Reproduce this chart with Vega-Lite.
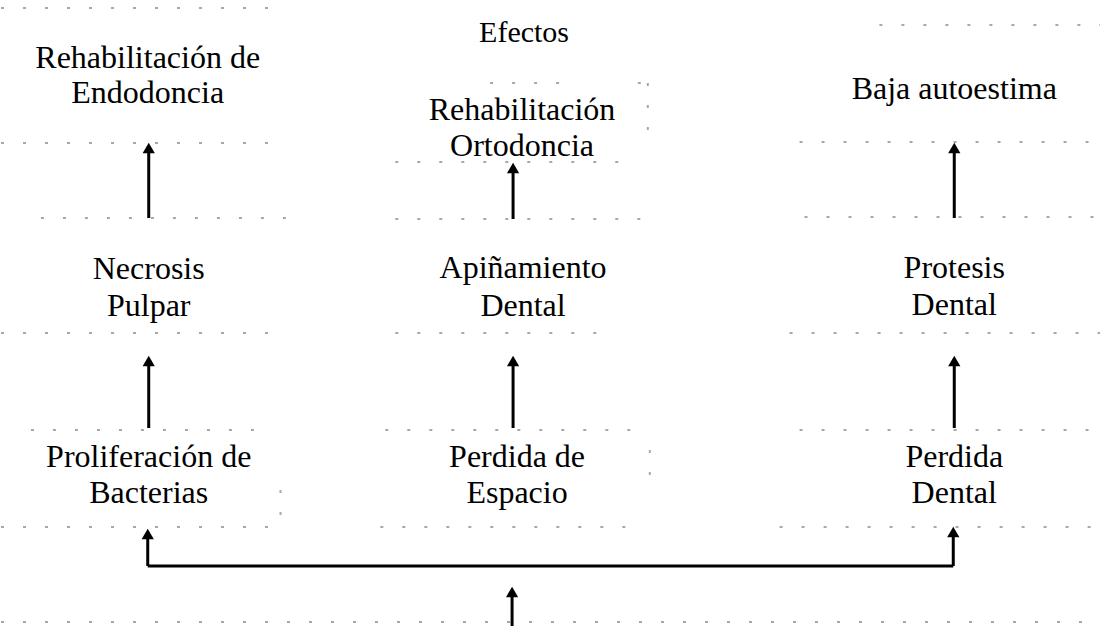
{
  "$schema": "https://vega.github.io/schema/vega-lite/v6.json",
  "width": 1101,
  "height": 628,
  "autosize": {"type": "fit", "contains": "padding"},
  "padding": 0,
  "background": "white",
  "config": {"view": {"stroke": null}},
  "datasets": {
    "dots": [
      {"x": 0, "y": 8, "x2": 285, "y2": 8},
      {"x": 880, "y": 25, "x2": 1101, "y2": 25},
      {"x": 490, "y": 83, "x2": 560, "y2": 83},
      {"x": 638, "y": 83, "x2": 650, "y2": 83},
      {"x": 648, "y": 83, "x2": 648, "y2": 130},
      {"x": 0, "y": 143, "x2": 285, "y2": 143},
      {"x": 395, "y": 162, "x2": 625, "y2": 162},
      {"x": 800, "y": 142, "x2": 1101, "y2": 142},
      {"x": 40, "y": 218, "x2": 290, "y2": 218},
      {"x": 395, "y": 219, "x2": 650, "y2": 219},
      {"x": 805, "y": 217, "x2": 1101, "y2": 217},
      {"x": 0, "y": 333, "x2": 270, "y2": 333},
      {"x": 395, "y": 333, "x2": 610, "y2": 333},
      {"x": 790, "y": 333, "x2": 1101, "y2": 333},
      {"x": 30, "y": 430, "x2": 270, "y2": 430},
      {"x": 385, "y": 430, "x2": 640, "y2": 430},
      {"x": 800, "y": 430, "x2": 1101, "y2": 430},
      {"x": 0, "y": 527, "x2": 285, "y2": 527},
      {"x": 380, "y": 527, "x2": 640, "y2": 527},
      {"x": 780, "y": 527, "x2": 1101, "y2": 527},
      {"x": 0, "y": 622, "x2": 1101, "y2": 622},
      {"x": 280, "y": 490, "x2": 280, "y2": 525},
      {"x": 650, "y": 450, "x2": 650, "y2": 490}
    ],
    "lines": [
      {"x": 148, "y": 218, "x2": 148, "y2": 150},
      {"x": 513, "y": 219, "x2": 513, "y2": 170},
      {"x": 955, "y": 218, "x2": 955, "y2": 150},
      {"x": 148, "y": 428, "x2": 148, "y2": 363},
      {"x": 513, "y": 428, "x2": 513, "y2": 363},
      {"x": 955, "y": 428, "x2": 955, "y2": 363},
      {"x": 147, "y": 566, "x2": 954, "y2": 566},
      {"x": 147, "y": 566, "x2": 147, "y2": 536},
      {"x": 954, "y": 566, "x2": 954, "y2": 534},
      {"x": 512, "y": 626, "x2": 512, "y2": 594}
    ],
    "heads": [
      {"x": 148, "y": 148},
      {"x": 513, "y": 168},
      {"x": 955, "y": 148},
      {"x": 148, "y": 361},
      {"x": 513, "y": 361},
      {"x": 955, "y": 361},
      {"x": 147, "y": 534},
      {"x": 954, "y": 532},
      {"x": 512, "y": 592}
    ],
    "title": [
      {"x": 524, "y": 42, "text": "Efectos"}
    ],
    "labels": [
      {"x": 147, "y": 68, "text": "Rehabilitación de"},
      {"x": 147, "y": 103, "text": "Endodoncia"},
      {"x": 522, "y": 120, "text": "Rehabilitación"},
      {"x": 522, "y": 156, "text": "Ortodoncia"},
      {"x": 955, "y": 99, "text": "Baja autoestima"},
      {"x": 148, "y": 279, "text": "Necrosis"},
      {"x": 148, "y": 316, "text": "Pulpar"},
      {"x": 523, "y": 278, "text": "Apiñamiento"},
      {"x": 523, "y": 316, "text": "Dental"},
      {"x": 955, "y": 278, "text": "Protesis"},
      {"x": 955, "y": 315, "text": "Dental"},
      {"x": 148, "y": 467, "text": "Proliferación de"},
      {"x": 148, "y": 503, "text": "Bacterias"},
      {"x": 517, "y": 467, "text": "Perdida de"},
      {"x": 517, "y": 503, "text": "Espacio"},
      {"x": 955, "y": 467, "text": "Perdida"},
      {"x": 955, "y": 503, "text": "Dental"}
    ]
  },
  "encoding": {
    "x": {"field": "x", "type": "quantitative", "scale": {"domain": [0, 1101], "nice": false, "zero": false}, "axis": null},
    "y": {"field": "y", "type": "quantitative", "scale": {"domain": [0, 628], "nice": false, "zero": false, "reverse": true}, "axis": null}
  },
  "layer": [
    {
      "data": {"name": "dots"},
      "mark": {"type": "rule", "color": "#a8a8a8", "strokeWidth": 2, "strokeDash": [3, 19]},
      "encoding": {"x2": {"field": "x2"}, "y2": {"field": "y2"}}
    },
    {
      "data": {"name": "lines"},
      "mark": {"type": "rule", "color": "black", "strokeWidth": 3},
      "encoding": {"x2": {"field": "x2"}, "y2": {"field": "y2"}}
    },
    {
      "data": {"name": "heads"},
      "mark": {"type": "point", "shape": "triangle-up", "filled": true, "color": "black", "opacity": 1, "size": 150}
    },
    {
      "data": {"name": "title"},
      "mark": {"type": "text", "font": "Liberation Serif", "fontSize": 30, "align": "center", "baseline": "alphabetic", "color": "black"},
      "encoding": {"text": {"field": "text"}}
    },
    {
      "data": {"name": "labels"},
      "mark": {"type": "text", "font": "Liberation Serif", "fontSize": 32, "align": "center", "baseline": "alphabetic", "color": "black"},
      "encoding": {"text": {"field": "text"}}
    }
  ]
}
